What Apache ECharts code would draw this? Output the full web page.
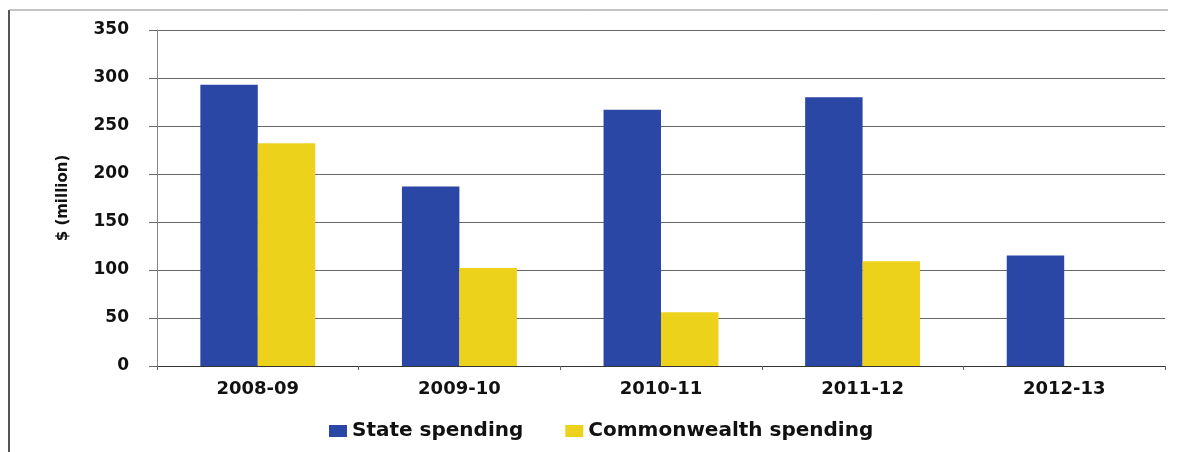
<!DOCTYPE html>
<html>
<head>
<meta charset="utf-8">
<script src="https://cdn.jsdelivr.net/npm/echarts@6/dist/echarts.min.js"></script>
<style>
  html, body { margin: 0; padding: 0; background: #fff; }
  #chart { width: 1191px; height: 452px; }
</style>
</head>
<body>
<div id="chart"></div>
<script>
const categories = ['2008-09', '2009-10', '2010-11', '2011-12', '2012-13'];
const stateSpending = [293, 187, 267, 280, 115];
const commonwealthSpending = [232, 102, 56, 109, null];
const seriesNames = ['State spending', 'Commonwealth spending'];
const yAxisTitle = '$ (million)';

const chart = echarts.init(document.getElementById('chart'), null, { renderer: 'canvas' });
const font = 'DejaVu Sans';
chart.setOption({
  animation: false,
  backgroundColor: '#ffffff',
  graphic: [
    { type: 'line', shape: { x1: 9, y1: 10, x2: 9, y2: 452 }, style: { stroke: '#555', lineWidth: 2 } },
    { type: 'line', shape: { x1: 9, y1: 10, x2: 1168, y2: 10 }, style: { stroke: '#888', lineWidth: 1 } }
  ],
  grid: { left: 157, right: 26, top: 30, bottom: 86 },
  legend: {
    left: 324, top: 416,
    itemWidth: 18, itemHeight: 12, itemGap: 42,
    icon: 'rect',
    textStyle: { fontFamily: font, fontSize: 20, fontWeight: 'bold', color: '#111' },
    data: seriesNames
  },
  xAxis: {
    type: 'category',
    data: categories,
    axisLine: { lineStyle: { color: '#333', width: 1 } },
    axisTick: { show: true, length: 4, lineStyle: { color: '#666' } },
    axisLabel: { fontFamily: font, fontSize: 18, fontWeight: 'bold', color: '#111', margin: 14 }
  },
  yAxis: {
    type: 'value',
    min: 0, max: 350, interval: 50,
    name: yAxisTitle,
    nameLocation: 'middle',
    nameGap: 86,
    nameTextStyle: { fontFamily: font, fontSize: 15, fontWeight: 'bold', color: '#111' },
    axisLine: { show: true, lineStyle: { color: '#888', width: 1 } },
    axisTick: { show: true, length: 8, lineStyle: { color: '#666' } },
    axisLabel: { fontFamily: font, fontSize: 17, fontWeight: 'bold', color: '#111', margin: 28 },
    splitLine: { lineStyle: { color: '#666', width: 1 } }
  },
  series: [
    {
      name: seriesNames[0], type: 'bar', data: stateSpending,
      itemStyle: { color: '#2b47a6' },
      barGap: '0%', barCategoryGap: '43%'
    },
    {
      name: seriesNames[1], type: 'bar', data: commonwealthSpending,
      itemStyle: { color: '#ecd21b' },
      barGap: '0%', barCategoryGap: '43%'
    }
  ]
});
</script>
</body>
</html>
